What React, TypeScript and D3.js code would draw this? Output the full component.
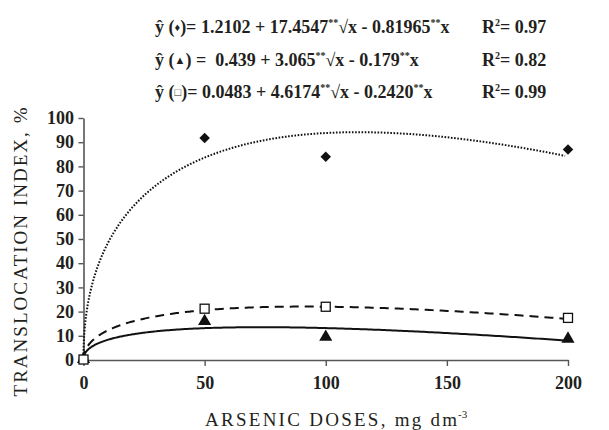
import React, { useEffect, useRef } from 'react'
import * as d3 from 'd3'

// observed means per arsenic dose
const doses = [0, 50, 100, 200]
const diamondValues = [0.4, 91.7, 84, 87]
const triangleValues = [0.3, 16, 9.5, 8.7]
const squareValues = [0.2, 21.2, 22, 17.4]

// fitted models y = a + b*sqrt(x) + c*x
const diamondFit = [1.2102, 17.4547, -0.81965]
const triangleFit = [0.439, 3.065, -0.179]
const squareFit = [0.0483, 4.6174, -0.242]

const xTicks = [0, 50, 100, 150, 200]
const yTicks = [0, 10, 20, 30, 40, 50, 60, 70, 80, 90, 100]

const equations = [
  { sym: '\u2666', pre: ')= 1.2102 + 17.4547', mid: 'x - 0.81965', r2: '0.97' },
  { sym: '\u25B2', pre: ') =  0.439 + 3.065', mid: 'x - 0.179', r2: '0.82' },
  { sym: '\u25A1', pre: ')= 0.0483 + 4.6174', mid: 'x - 0.2420', r2: '0.99' },
]

const INK = '#231f20'
const FONT = '"Liberation Serif", "Times New Roman", serif'

export default function App() {
  const ref = useRef<SVGSVGElement>(null)

  useEffect(() => {
    const svg = d3.select(ref.current)
    svg.selectAll('*').remove()

    const x = d3.scaleLinear().domain([0, 200]).range([83.5, 568])
    const y = d3.scaleLinear().domain([0, 100]).range([360, 118])

    // axes
    const xAxis = svg.append('g').attr('transform', 'translate(0,360)')
      .call(d3.axisBottom(x).tickValues(xTicks).tickSize(6).tickSizeOuter(0))
    const yAxis = svg.append('g').attr('transform', 'translate(83.5,0)')
      .call(d3.axisLeft(y).tickValues(yTicks).tickSize(5).tickSizeOuter(0))
    ;[xAxis, yAxis].forEach(g => {
      g.select('.domain').attr('stroke', '#555').attr('stroke-width', 1.6)
      g.selectAll('.tick line').attr('stroke', '#555').attr('stroke-width', 1.4)
      g.selectAll('.tick text')
        .attr('fill', INK)
        .style('font-family', FONT)
        .style('font-weight', 'bold')
        .style('font-size', '18px')
    })
    xAxis.selectAll('.tick text').attr('y', 16)
    yAxis.selectAll('.tick text').attr('x', -9.5)

    // fitted curves
    const sGrid = d3.range(0, Math.sqrt(200) + 0.001, 0.05)
    const drawFit = (coef: number[], dash: string | null) => {
      const pts = sGrid.map(s => [s * s, coef[0] + coef[1] * s + coef[2] * s * s])
      const line = d3.line<number[]>().x(d => x(d[0])).y(d => y(d[1]))
      const p = svg.append('path')
        .attr('d', line(pts))
        .attr('fill', 'none')
        .attr('stroke', '#111')
        .attr('stroke-width', 2)
      if (dash) p.attr('stroke-dasharray', dash)
    }
    drawFit(diamondFit, '1.6,1.6')
    drawFit(squareFit, '9,6')
    drawFit(triangleFit, null)

    // markers
    const diamond = d3.symbol().type(d3.symbolDiamond2).size(70)
    const tri = d3.symbol().type(d3.symbolTriangle).size(75)
    svg.selectAll('.dia').data(doses).enter().append('path')
      .attr('transform', (d, i) => `translate(${x(d)},${y(diamondValues[i])})`)
      .attr('d', diamond())
      .attr('fill', '#111')
    svg.selectAll('.tri').data(doses).enter().append('path')
      .attr('transform', (d, i) => `translate(${x(d)},${y(triangleValues[i])})`)
      .attr('d', tri())
      .attr('fill', '#111')
    svg.selectAll('.sq').data(doses).enter().append('rect')
      .attr('x', d => x(d) - 4.5)
      .attr('y', (d, i) => y(squareValues[i]) - 4.5)
      .attr('width', 9)
      .attr('height', 9)
      .attr('fill', '#fff')
      .attr('stroke', '#111')
      .attr('stroke-width', 1.3)

    // equations
    equations.forEach((eq, i) => {
      const base = 33 + i * 32.5
      const t = svg.append('text')
        .attr('x', 155)
        .attr('y', base)
        .attr('fill', INK)
        .style('font-family', FONT)
        .style('font-weight', 'bold')
        .style('font-size', '18px')
        .style('white-space', 'pre')
      t.append('tspan').text('\u0177 (')
      t.append('tspan').style('font-size', '11px').attr('dy', -2).text(eq.sym)
      t.append('tspan').attr('dy', 2).text(eq.pre)
      t.append('tspan').style('font-size', '10px').attr('dy', -7).text('**')
      t.append('tspan').attr('dy', 7).style('font-weight', 'normal').text('\u221A')
      t.append('tspan').text(eq.mid)
      t.append('tspan').style('font-size', '10px').attr('dy', -7).text('**')
      t.append('tspan').attr('dy', 7).text('x')

      const r = svg.append('text')
        .attr('x', 482)
        .attr('y', base)
        .attr('fill', INK)
        .style('font-family', FONT)
        .style('font-weight', 'bold')
        .style('font-size', '18px')
      r.append('tspan').text('R')
      r.append('tspan').style('font-size', '10px').attr('dy', -7).text('2')
      r.append('tspan').attr('dy', 7).text('= ' + eq.r2)
    })

    // axis titles
    svg.append('text')
      .attr('x', 205)
      .attr('y', 426)
      .attr('textLength', 252)
      .attr('lengthAdjust', 'spacing')
      .attr('fill', INK)
      .style('font-family', FONT)
      .style('font-size', '19px')
      .text('ARSENIC DOSES, mg dm')
    svg.append('text')
      .attr('x', 458)
      .attr('y', 418)
      .attr('fill', INK)
      .style('font-family', FONT)
      .style('font-size', '11px')
      .text('-3')

    svg.append('text')
      .attr('transform', 'translate(27,252) rotate(-90)')
      .attr('text-anchor', 'middle')
      .attr('textLength', 289)
      .attr('lengthAdjust', 'spacing')
      .attr('fill', INK)
      .style('font-family', FONT)
      .style('font-size', '19px')
      .text('TRANSLOCATION INDEX, %')
  }, [])

  return (
    <svg ref={ref} width={609} height={430}
      style={{ position: 'absolute', left: 0, top: 0, background: '#fff' }} />
  )
}
